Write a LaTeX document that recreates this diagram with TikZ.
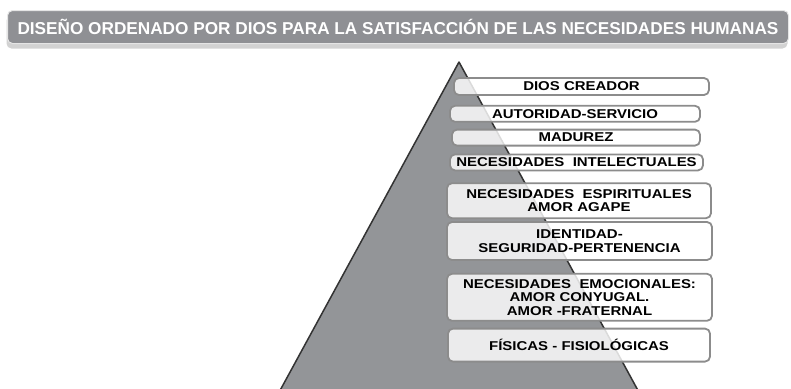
\documentclass[tikz,border=0pt]{standalone}
\usepackage{fontspec}
\setmainfont{Liberation Sans}
\newfontfamily\levelfont{Liberation Sans}[FakeStretch=1.17]
\usetikzlibrary{positioning,shadows}

\definecolor{titleGray}{RGB}{143,144,148}
\definecolor{pyramidGray}{RGB}{147,149,152}
\definecolor{borderGray}{RGB}{140,140,140}

\begin{document}
\begin{tikzpicture}[
	x=1pt, y=-1pt,
	font=\levelfont\bfseries\fontsize{12.8}{13.6}\selectfont
	]
\tikzset{
	base/.style = { rectangle, text centered, inner sep=0pt },
	banner/.style = { base, rounded corners=5pt, fill=titleGray, draw=gray!20, line width=1pt, text=white, minimum width=781pt, minimum height=33pt, font=\bfseries\fontsize{17.2}{19}\selectfont, drop shadow={shadow xshift=-1pt, shadow yshift=-5pt, fill=gray!35, opacity=1} },
	level/.style = { base, rounded corners=5pt, draw=borderGray, line width=1.8pt, fill=white, fill opacity=0.82, text opacity=1, align=center, text=black },
	pyramid/.style = { fill=pyramidGray, draw=black!80, line width=1.5pt, line join=round }
}
	\useasboundingbox (0,0) rectangle (791,388);

	% title
	\node (title) [banner] at (398,27) {DISEÑO ORDENADO POR DIOS PARA LA SATISFACCIÓN DE LAS NECESIDADES HUMANAS};

	% pyramid
	\coordinate (apex) at (459,62);
	\coordinate (baseLeft) at (277,396);
	\coordinate (baseRight) at (641,396);
	\draw [pyramid] (apex) -- (baseRight) -- (baseLeft) -- cycle;

	% levels, top to bottom
	\node (dios) [level, minimum width=255pt, minimum height=17pt] at (581.5,86.5) {DIOS CREADOR};
	\node (autoridad) [level, minimum width=250pt, minimum height=16pt, below=9pt of dios, xshift=-6.5pt] {AUTORIDAD-SERVICIO};
	\node (madurez) [level, minimum width=248pt, minimum height=16pt, below=6pt of autoridad, xshift=1pt] {MADUREZ};
	\node (intelectuales) [level, minimum width=253pt, minimum height=16pt, below=7pt of madurez, xshift=0.5pt] {NECESIDADES~~INTELECTUALES};
	\node (espirituales) [level, minimum width=264pt, minimum height=35pt, below=11pt of intelectuales, xshift=2.5pt] {NECESIDADES~~ESPIRITUALES\\AMOR AGAPE};
	\node (identidad) [level, minimum width=265pt, minimum height=38pt, below=2pt of espirituales, xshift=0.5pt] {IDENTIDAD-\\SEGURIDAD-PERTENENCIA};
	\node (emocionales) [level, minimum width=265pt, minimum height=47pt, below=12pt of identidad] {NECESIDADES~~EMOCIONALES:\\AMOR CONYUGAL.\\AMOR -FRATERNAL};
	\node (fisicas) [level, minimum width=262pt, minimum height=33pt, below=6pt of emocionales, xshift=-0.5pt] {FÍSICAS - FISIOLÓGICAS};
\end{tikzpicture}
\end{document}
